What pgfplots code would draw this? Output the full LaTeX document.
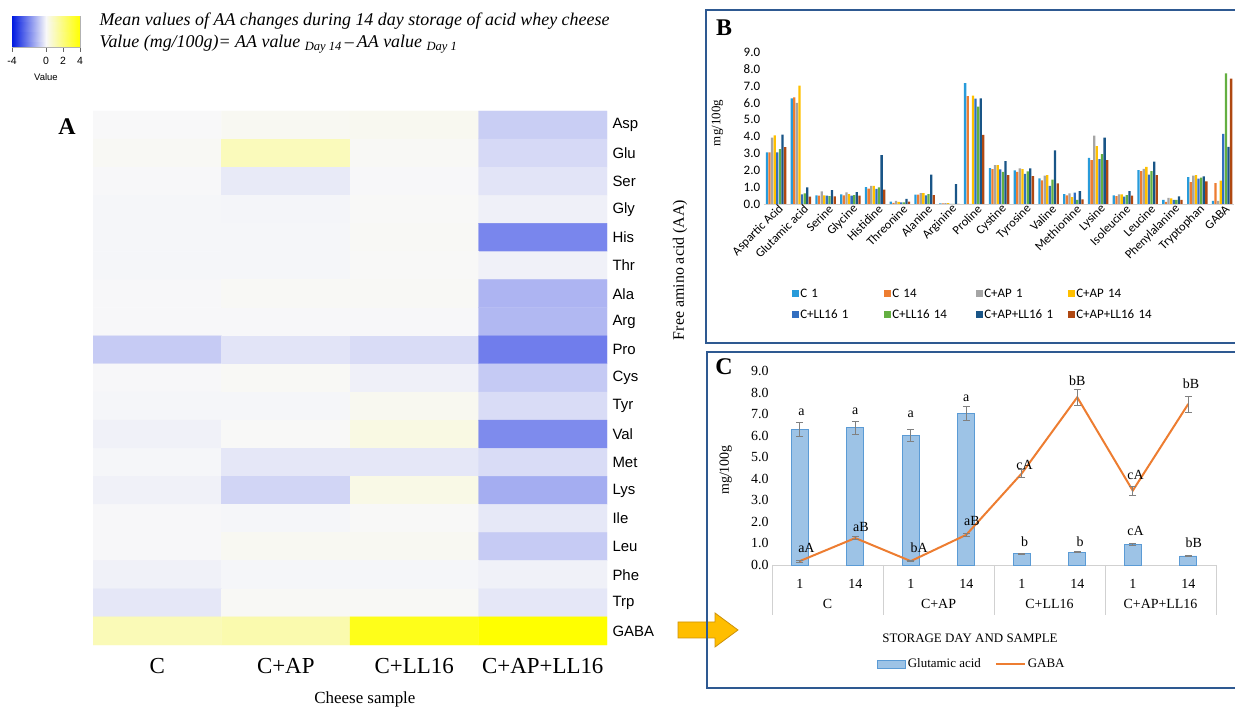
\documentclass[border=0pt]{standalone}
\usepackage{fontspec}
\setmainfont{Liberation Serif}
\newfontfamily\arial{Liberation Sans}
\newfontfamily\calibri{Carlito}
\usepackage{pgfplots}
\usepackage{pgfplotstable}
\pgfplotsset{compat=1.18}

\definecolor{cC1}{RGB}{40,155,218}
\definecolor{cC14}{RGB}{237,125,49}
\definecolor{cAP1}{RGB}{165,165,165}
\definecolor{cAP14}{RGB}{255,192,0}
\definecolor{cLL1}{RGB}{50,110,192}
\definecolor{cLL14}{RGB}{100,175,65}
\definecolor{cAPLL1}{RGB}{25,85,135}
\definecolor{cAPLL14}{RGB}{175,72,18}
\definecolor{frameblue}{RGB}{46,89,145}
\definecolor{glufill}{RGB}{157,195,230}
\definecolor{gluedge}{RGB}{91,155,213}
\definecolor{gabaline}{RGB}{237,125,49}
\definecolor{arrowfill}{RGB}{255,190,0}
\definecolor{arrowedge}{RGB}{205,145,10}

\pgfplotsset{
  colormap={bwy}{rgb255(0cm)=(0,25,225); rgb255(1cm)=(248,248,249); rgb255(2cm)=(255,255,0)},
  sq/.style={fill=#1, draw=none, legend image code/.code={\fill[##1] (0bp,-3.5bp) rectangle (7bp,3.5bp);}},
  barleg/.style={legend image code/.code={\draw[##1] (0bp,-4bp) rectangle (28bp,4bp);}},
  lineleg/.style={legend image code/.code={\draw[##1] (0bp,0bp) -- (29bp,0bp);}},
}

% Panel B: free amino acids (mg/100g)
\pgfplotstableread{
x C1 C14 AP1 AP14 LL1 LL14 APLL1 APLL14
0 3.06 3.06 3.94 4.08 3.06 3.25 4.12 3.37
1 6.27 6.33 6.00 7.02 0.57 0.63 0.99 0.43
2 0.51 0.49 0.75 0.51 0.49 0.47 0.83 0.45
3 0.57 0.51 0.69 0.59 0.49 0.53 0.71 0.49
4 1.00 0.91 1.08 1.08 0.89 0.99 2.90 0.85
5 0.14 0.06 0.18 0.12 0.10 0.10 0.30 0.14
6 0.55 0.55 0.65 0.65 0.51 0.59 1.74 0.53
7 0.04 0.04 0.05 0.05 0.00 0.00 1.18 0.00
8 7.18 6.41 0.00 6.43 6.25 5.78 6.27 4.10
9 2.13 2.07 2.31 2.31 2.05 1.91 2.54 1.72
10 1.99 1.91 2.11 2.07 1.79 1.93 2.11 1.66
11 1.52 1.40 1.68 1.72 1.08 1.44 3.18 1.22
12 0.59 0.51 0.63 0.41 0.67 0.24 0.77 0.28
13 2.74 2.60 4.06 3.43 2.66 2.96 3.94 2.60
14 0.51 0.47 0.57 0.57 0.43 0.53 0.77 0.49
15 2.01 1.95 2.09 2.21 1.74 1.95 2.52 1.72
16 0.24 0.12 0.36 0.34 0.24 0.24 0.45 0.24
17 1.60 1.30 1.68 1.72 1.50 1.56 1.64 1.34
18 0.18 1.24 0.18 1.38 4.16 7.75 3.39 7.44
}\aatable

% Panel C: glutamic acid and GABA
\pgfplotstableread{
x glu gluerr gaba gabaerr
0 6.29 0.31 0.18 0.05
1 6.37 0.31 1.25 0.08
2 6.00 0.28 0.18 0.03
3 7.04 0.33 1.40 0.08
4 0.53 0.03 4.25 0.20
5 0.60 0.03 7.78 0.38
6 0.97 0.04 3.45 0.20
7 0.42 0.03 7.47 0.37
}\glutable

% Panel A: heatmap (day 14 - day 1)
\pgfplotstableread{
x y v
0 0 0.00
1 0 0.12
2 0 0.15
3 0 -0.75
0 1 0.08
1 1 1.00
2 1 0.06
3 1 -0.55
0 2 -0.02
1 2 -0.25
2 2 -0.02
3 2 -0.35
0 3 -0.04
1 3 -0.06
2 3 0.04
3 3 -0.15
0 4 -0.04
1 4 -0.04
2 4 0.06
3 4 -2.05
0 5 -0.04
1 5 -0.04
2 5 0.04
3 5 -0.12
0 6 -0.02
1 6 0.06
2 6 0.06
3 6 -1.21
0 7 -0.02
1 7 -0.02
2 7 -0.02
3 7 -1.15
0 8 -0.80
1 8 -0.35
2 8 -0.50
3 8 -2.20
0 9 -0.02
1 9 0.06
2 9 -0.14
3 9 -0.82
0 10 -0.04
1 10 -0.04
2 10 0.14
3 10 -0.50
0 11 -0.12
1 11 0.04
2 11 0.35
3 11 -1.96
0 12 -0.04
1 12 -0.30
2 12 -0.30
3 12 -0.50
0 13 -0.12
1 13 -0.62
2 13 0.30
3 13 -1.35
0 14 -0.02
1 14 -0.04
2 14 0.04
3 14 -0.28
0 15 -0.02
1 15 0.12
2 15 0.12
3 15 -0.80
0 16 -0.12
1 16 -0.04
2 16 -0.04
3 16 -0.12
0 17 -0.30
1 17 0.06
2 17 0.06
3 17 -0.30
0 18 1.06
1 18 1.20
2 18 3.59
3 18 4.05
}\heattable

\begin{document}
\begin{tikzpicture}[x=1bp,y=1bp]
\useasboundingbox (0,0) rectangle (1235,707);

% ---------------- colour key ----------------
\begin{axis}[
  at={(12bp,660bp)}, anchor=south west, scale only axis,
  width=68bp, height=31bp,
  xmin=-4, xmax=4, ymin=0, ymax=1,
  ytick=\empty, xtick={-4,0,2,4}, xtick pos=bottom, tick align=outside,
  major tick length=5bp, tick style={black!60},
  xticklabel style={font=\arial\fontsize{10.5}{10.5}\selectfont, yshift=-2bp, /pgf/number format/assume math mode=true},
  xlabel={Value}, xlabel style={font=\arial\fontsize{9.5}{9.5}\selectfont, yshift=-2bp},
  axis line style={draw=black!30},
  colormap name=bwy, point meta min=-4, point meta max=4,
]
\addplot[surf, shader=interp, mesh/rows=2, point meta=x] coordinates {(-4,0) (0,0) (4,0) (-4,1) (0,1) (4,1)};
\end{axis}

% ---------------- Panel A ----------------
\begin{axis}[
  at={(93bp,62bp)}, anchor=south west, scale only axis,
  width=514bp, height=534bp,
  xmin=-0.5, xmax=3.5, ymin=-0.5, ymax=18.5, y dir=reverse,
  axis line style={draw=none}, major tick length=0,
  xtick={0,1,2,3},
  xticklabels={C,\raisebox{-4bp}{C+AP},C+LL16,C+AP+LL16},
  xticklabel style={font=\fontsize{23}{23}\selectfont, yshift=-10bp},
  ytick={0,...,18},
  yticklabels={Asp,Glu,Ser,Gly,His,Thr,Ala,Arg,Pro,Cys,Tyr,Val,Met,Lys,Ile,Leu,Phe,Trp,GABA},
  yticklabel pos=right,
  yticklabel style={font=\arial\fontsize{15}{15}\selectfont, anchor=west, xshift=2bp},
  xlabel={Cheese sample},
  xlabel style={font=\fontsize{17}{17}\selectfont, at={(axis description cs:0.529,-0.102)}, anchor=center},
  colormap name=bwy, point meta min=-4, point meta max=4,
]
\addplot[matrix plot*, mesh/cols=4, point meta=explicit] table[x=x, y=y, meta=v] {\heattable};
\end{axis}

\node[anchor=west, font=\itshape\fontsize{18}{18}\selectfont] at (96,686) {Mean values of AA changes during 14 day storage of acid whey cheese};
\node[anchor=west, font=\itshape\fontsize{18}{18}\selectfont] at (96,663) {Value (mg/100g)= AA value \textsubscript{Day 14}\,--\,AA value \textsubscript{Day 1}};
\node[font=\bfseries\fontsize{24}{24}\selectfont] at (67,580) {A};

% arrow
\draw[fill=arrowfill, draw=arrowedge, line width=0.8bp] (678,85) -- (715,85) -- (715,94) -- (738,77) -- (715,60) -- (715,69) -- (678,69) -- cycle;

\node[rotate=90, font=\fontsize{16}{16}\selectfont] at (680,437) {Free amino acid (AA)};

% frames
\draw[frameblue, line width=1.5bp] (1235,697) -- (706,697) -- (706,364) -- (1235,364);
\draw[frameblue, line width=1.5bp] (1235,355) -- (707,355) -- (707,19) -- (1235,19);

% ---------------- Panel B ----------------
\begin{axis}[
  at={(763.6bp,503bp)}, anchor=south west, scale only axis,
  width=470.8bp, height=151.6bp,
  ybar=0.3bp, bar width=2.3bp,
  xmin=-0.5, xmax=18.5, ymin=0, ymax=9, ytick={0,...,9},
  axis x line*=bottom, axis y line*=left,
  axis line style={-},
  y axis line style={draw=none}, x axis line style={draw=black!18, line width=0.8bp},
  major tick length=0,
  xtick={0,...,18},
  xticklabels={Aspartic Acid,Glutamic acid,Serine,Glycine,Histidine,Threonine,Alanine,Arginine,Proline,Cystine,Tyrosine,Valine,Methionine,Lysine,Isoleucine,Leucine,Phenylalanine,Tryptophan,GABA},
  xticklabel style={font=\calibri\fontsize{12.5}{12.5}\selectfont, rotate=45, anchor=east, xshift=5bp, yshift=-6bp},
  yticklabel style={font=\calibri\fontsize{13}{13}\selectfont, /pgf/number format/.cd, fixed, fixed zerofill, precision=1, assume math mode=true},
  ylabel={mg/100g},
  ylabel style={font=\fontsize{13}{13}\selectfont, at={(axis description cs:-0.098,0.534)}, anchor=center},
  legend columns=4,
  legend cell align=left,
  legend style={at={(axis description cs:0.053,-0.534)}, anchor=north west, draw=none, fill=none,
    font=\calibri\fontsize{13}{13}\selectfont, row sep=8bp,
    nodes={text width=82bp, inner sep=1.5bp}},
]
\addplot[sq=cC1] table[x=x, y=C1] {\aatable};
\addplot[sq=cC14] table[x=x, y=C14] {\aatable};
\addplot[sq=cAP1] table[x=x, y=AP1] {\aatable};
\addplot[sq=cAP14] table[x=x, y=AP14] {\aatable};
\addplot[sq=cLL1] table[x=x, y=LL1] {\aatable};
\addplot[sq=cLL14] table[x=x, y=LL14] {\aatable};
\addplot[sq=cAPLL1] table[x=x, y=APLL1] {\aatable};
\addplot[sq=cAPLL14] table[x=x, y=APLL14] {\aatable};
\legend{C 1,C 14,C+AP 1,C+AP 14,C+LL16 1,C+LL16 14,C+AP+LL16 1,C+AP+LL16 14}
\end{axis}
\node[font=\bfseries\fontsize{24}{24}\selectfont] at (724,679) {B};

% ---------------- Panel C ----------------
\begin{axis}[
  at={(772bp,142bp)}, anchor=south west, scale only axis,
  width=444bp, height=194bp,
  xmin=-0.5, xmax=7.5, ymin=0, ymax=9, ytick={0,...,9},
  axis x line*=bottom, axis y line*=left,
  axis line style={-},
  y axis line style={draw=none}, x axis line style={draw=black!18, line width=0.8bp},
  major tick length=0,
  xtick={0,...,7},
  xticklabels={1,14,1,14,1,14,1,14},
  xticklabel style={font=\fontsize{14}{14}\selectfont, yshift=-11bp},
  yticklabel style={font=\fontsize{14}{14}\selectfont, /pgf/number format/.cd, fixed, fixed zerofill, precision=1, assume math mode=true},
  ylabel={mg/100g},
  ylabel style={font=\fontsize{14}{14}\selectfont, at={(axis description cs:-0.104,0.49)}, anchor=center},
  xlabel={STORAGE DAY AND SAMPLE},
  xlabel style={font=\fontsize{13}{13}\selectfont, at={(axis description cs:0.446,-0.376)}, anchor=center},
  legend columns=2,
  legend style={at={(axis description cs:0.45,-0.51)}, anchor=center, draw=none, fill=none,
    font=\fontsize{13}{13}\selectfont, /tikz/every even column/.append style={column sep=12bp}},
  clip=false,
]
\addplot[ybar, bar width=17bp, fill=glufill, draw=gluedge, line width=0.8bp, barleg,
  error bars/.cd, y dir=both, y explicit,
  error bar style={draw=gray, line width=0.8bp},
  error mark options={draw=gray, line width=0.8bp, mark size=3.5bp, rotate=90}]
  table[x=x, y=glu, y error=gluerr] {\glutable};
\addplot[gabaline, line width=2bp, mark=none, lineleg,
  error bars/.cd, y dir=both, y explicit,
  error bar style={draw=gray, line width=0.8bp},
  error mark options={draw=gray, line width=0.8bp, mark size=3.5bp, rotate=90}]
  table[x=x, y=gaba, y error=gabaerr] {\glutable};
\legend{Glutamic acid,GABA}
% group separators and names
\draw[black!18, line width=0.8bp] (axis cs:-0.5,0) -- ++(0bp,-50bp);
\draw[black!18, line width=0.8bp] (axis cs:1.5,0) -- ++(0bp,-50bp);
\draw[black!18, line width=0.8bp] (axis cs:3.5,0) -- ++(0bp,-50bp);
\draw[black!18, line width=0.8bp] (axis cs:5.5,0) -- ++(0bp,-50bp);
\draw[black!18, line width=0.8bp] (axis cs:7.5,0) -- ++(0bp,-50bp);
\node[font=\fontsize{14}{14}\selectfont] at (axis cs:0.5,0) [yshift=-39bp] {C};
\node[font=\fontsize{14}{14}\selectfont] at (axis cs:2.5,0) [yshift=-39bp] {C+AP};
\node[font=\fontsize{14}{14}\selectfont] at (axis cs:4.5,0) [yshift=-39bp] {C+LL16};
\node[font=\fontsize{14}{14}\selectfont] at (axis cs:6.5,0) [yshift=-39bp] {C+AP+LL16};
% significance letters
\node[font=\fontsize{14}{14}\selectfont] at (axis cs:0.03,7.1) {a};
\node[font=\fontsize{14}{14}\selectfont] at (axis cs:1.0,7.13) {a};
\node[font=\fontsize{14}{14}\selectfont] at (axis cs:2.0,7.0) {a};
\node[font=\fontsize{14}{14}\selectfont] at (axis cs:3.0,7.73) {a};
\node[font=\fontsize{14}{14}\selectfont] at (axis cs:4.05,4.63) {cA};
\node[font=\fontsize{14}{14}\selectfont] at (axis cs:5.0,8.57) {bB};
\node[font=\fontsize{14}{14}\selectfont] at (axis cs:6.05,4.19) {cA};
\node[font=\fontsize{14}{14}\selectfont] at (axis cs:7.05,8.43) {bB};
\node[font=\fontsize{14}{14}\selectfont] at (axis cs:0.12,0.8) {aA};
\node[font=\fontsize{14}{14}\selectfont] at (axis cs:1.1,1.78) {aB};
\node[font=\fontsize{14}{14}\selectfont] at (axis cs:2.15,0.8) {bA};
\node[font=\fontsize{14}{14}\selectfont] at (axis cs:3.1,2.03) {aB};
\node[font=\fontsize{14}{14}\selectfont] at (axis cs:4.05,1.1) {b};
\node[font=\fontsize{14}{14}\selectfont] at (axis cs:5.05,1.1) {b};
\node[font=\fontsize{14}{14}\selectfont] at (axis cs:6.05,1.59) {cA};
\node[font=\fontsize{14}{14}\selectfont] at (axis cs:7.1,1.04) {bB};
\end{axis}
\node[font=\bfseries\fontsize{24}{24}\selectfont] at (724,340) {C};

\end{tikzpicture}
\end{document}
